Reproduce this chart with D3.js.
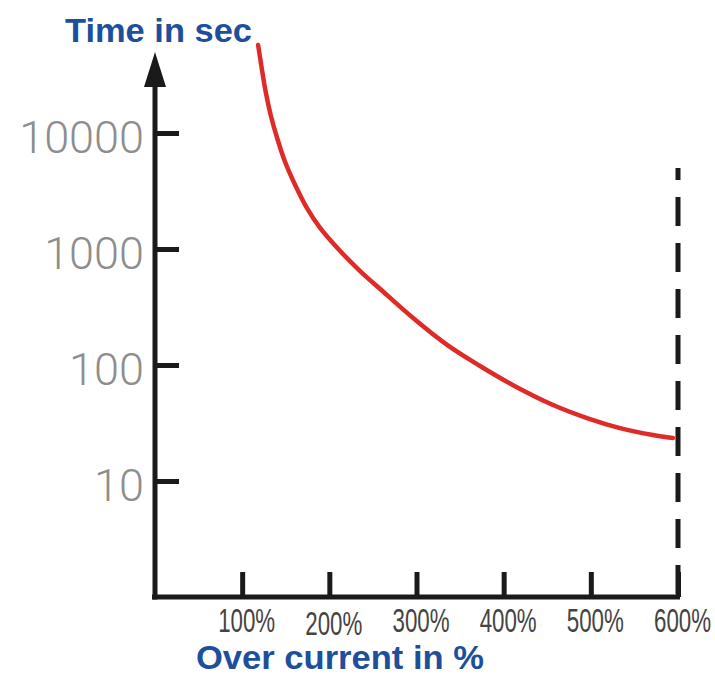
<!DOCTYPE html>
<html>
<head>
<meta charset="utf-8">
<script src="https://cdn.jsdelivr.net/npm/d3@7"></script>
<style>
  body { margin: 0; background: #fff; }
  svg { display: block; }
  .title { font-family: 'Liberation Sans', Arial, sans-serif; font-weight: bold; fill: #1d4f9c; }
  .y-axis text { font-family: Roboto, 'DejaVu Sans', sans-serif; font-weight: 300; font-size: 45px; fill: #8d8d8d; }
  .x-axis text { font-family: 'Liberation Sans Narrow', 'Liberation Sans', sans-serif; font-size: 33px; fill: #444; }
  .tick line { stroke: #1a1a1a; stroke-width: 5; }
</style>
</head>
<body>
<div class="graph"></div>
<script>
// over current (%) vs trip time (s)
const overCurrent = [118.3, 122.4, 127, 132.7, 140.1, 149.3, 160.8, 174.2, 189.4, 212.4, 235.3, 258.3, 296.1, 335.1, 372.9, 410.8, 456.7, 495.6, 533.5, 571.3, 594.2];
const tripTime = [57400, 36300, 22600, 14300, 9060, 5620, 3560, 2260, 1520, 961, 646, 452, 254, 149, 98, 67, 45.2, 34.9, 28.6, 24.9, 23.5];

const xTicks = [100, 200, 300, 400, 500, 600];
const yTicks = [10, 100, 1000, 10000];
const limit = 600;

const width = 715;
const height = 675;

const color = {
  axis: '#1a1a1a',
  curve: '#de2b27',
};

const x = d3.scaleLinear()
  .domain([0, 600])
  .range([155, 678]);

const y = d3.scaleLog()
  .domain([1, 1e5])
  .range([597, 17]);

const svg = d3.select('.graph')
  .append('svg')
    .attr('width', width)
    .attr('height', height)
    .attr('viewBox', [0, 0, width, height]);

// y axis: ticks point right, labels sit left
const yAxis = svg.append('g')
  .attr('class', 'y-axis')
  .attr('transform', `translate(${x(0)}, 0)`)
  .call(d3.axisLeft(y)
    .tickValues(yTicks)
    .tickFormat(d3.format('d'))
    .tickSizeInner(-24)
    .tickSizeOuter(0)
    .tickPadding(11));

yAxis.select('.domain').remove();
yAxis.selectAll('text').attr('dy', '0.43em');

// x axis: ticks point up, labels below
const xAxis = svg.append('g')
  .attr('class', 'x-axis')
  .attr('transform', `translate(0, ${y(1)})`)
  .call(d3.axisBottom(x)
    .tickValues(xTicks)
    .tickFormat(d => d + '%')
    .tickSizeInner(-25)
    .tickSizeOuter(0)
    .tickPadding(0));

xAxis.select('.domain').remove();
xAxis.selectAll('text')
  .attr('x', 4)
  .attr('y', d => d === 200 ? 38 : 35)
  .attr('dy', 0)
  .attr('textLength', 57)
  .attr('lengthAdjust', 'spacingAndGlyphs');

// axis lines
svg.append('line')
  .attr('x1', x(0))
  .attr('x2', x(0))
  .attr('y1', y(1) + 2.5)
  .attr('y2', 84)
  .attr('stroke', color.axis)
  .attr('stroke-width', 5);

svg.append('path')
  .attr('d', d3.line()([[x(0), 52], [x(0) - 11, 87], [x(0) + 11, 87]]) + 'Z')
  .attr('fill', color.axis);

svg.append('line')
  .attr('x1', x(0) - 3)
  .attr('x2', x(limit) + 2)
  .attr('y1', y(1))
  .attr('y2', y(1))
  .attr('stroke', color.axis)
  .attr('stroke-width', 5);

// 600% limit
svg.append('line')
  .attr('x1', x(limit))
  .attr('x2', x(limit))
  .attr('y1', 168)
  .attr('y2', y(1))
  .attr('stroke', color.axis)
  .attr('stroke-width', 5)
  .attr('stroke-dasharray', '29 17')
  .attr('stroke-dashoffset', 17);

// trip curve
const points = overCurrent.map((d, i) => [x(d), y(tripTime[i])]);
svg.append('path')
  .attr('d', d3.line().curve(d3.curveCatmullRom.alpha(0.5))(points))
  .attr('fill', 'none')
  .attr('stroke', color.curve)
  .attr('stroke-width', 4.5)
  .attr('stroke-linecap', 'round');

svg.append('text')
  .attr('class', 'title')
  .attr('x', 65)
  .attr('y', 42)
  .attr('font-size', 33)
  .attr('textLength', 187)
  .attr('lengthAdjust', 'spacingAndGlyphs')
  .text('Time in sec');

svg.append('text')
  .attr('class', 'title')
  .attr('x', 196)
  .attr('y', 669)
  .attr('font-size', 33)
  .attr('textLength', 288)
  .attr('lengthAdjust', 'spacingAndGlyphs')
  .text('Over current in %');
</script>
</body>
</html>
